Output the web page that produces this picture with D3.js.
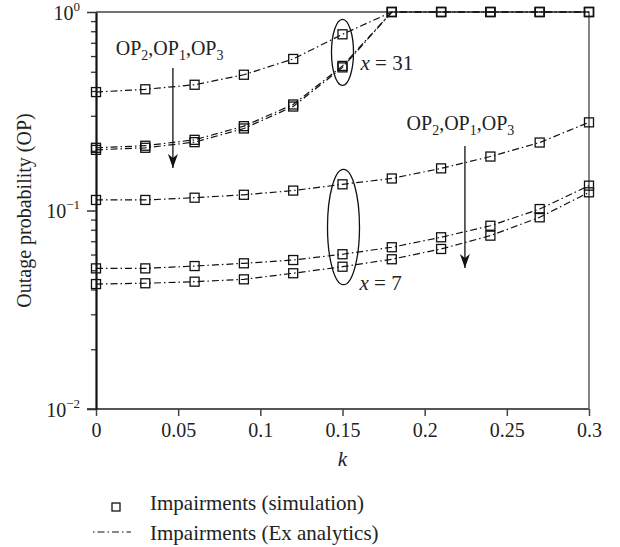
<!DOCTYPE html>
<html>
<head>
<meta charset="utf-8">
<script src="https://cdn.jsdelivr.net/npm/d3@7"></script>
<style>
  body { margin: 0; background: #fff; }
  text { font-family: "Liberation Serif", "Times New Roman", serif; fill: #222; }
</style>
</head>
<body>
<div id="chart-area"></div>
<script>
// DATA
const kValues = [0, 0.03, 0.06, 0.09, 0.12, 0.15, 0.18, 0.21, 0.24, 0.27, 0.3]
const op2x31 = [0.395, 0.408, 0.43, 0.483, 0.58, 0.772, 1, 1, 1, 1, 1]
const op1x31 = [0.207, 0.212, 0.227, 0.266, 0.342, 0.535, 1, 1, 1, 1, 1]
const op3x31 = [0.202, 0.207, 0.221, 0.259, 0.334, 0.526, 1, 1, 1, 1, 1]
const op2x7 = [0.113, 0.113, 0.116, 0.12, 0.126, 0.1355, 0.145, 0.163, 0.187, 0.22, 0.278]
const op1x7 = [0.0511, 0.0511, 0.0525, 0.0542, 0.0563, 0.0602, 0.0653, 0.0733, 0.0838, 0.1017, 0.1334]
const op3x7 = [0.0426, 0.043, 0.0438, 0.045, 0.0483, 0.0521, 0.0568, 0.064, 0.0747, 0.0924, 0.1235]
const seriesList = [op2x31, op1x31, op3x31, op2x7, op1x7, op3x7]

const xTicks = [0, 0.05, 0.1, 0.15, 0.2, 0.25, 0.3]
const xTickLabels = ['0', '0.05', '0.1', '0.15', '0.2', '0.25', '0.3']
const yMajor = [0.01, 0.1, 1]
const yExponents = ['\u22122', '\u22121', '0']
const legendLabels = ['Impairments (simulation)', 'Impairments (Ex analytics)']

// SIZES
const W = 620
const H = 547
const margin = { top: 12, right: 31, bottom: 138, left: 96 }
const width = W - margin.left - margin.right
const height = H - margin.top - margin.bottom
const dashStyle = '7,3,1.5,3'

const svg = d3.select('#chart-area')
              .append('svg')
              .attr('width', W)
              .attr('height', H)

const g = svg.append('g')
             .attr('transform', 'translate(' + margin.left + ',' + margin.top + ')')

// SCALES
const x = d3.scaleLinear().domain([0, 0.3]).range([0, width])
const y = d3.scaleLog().domain([0.01, 1]).range([height, 0])

// FRAME (top / right)
g.append('path')
 .attr('d', 'M0,0H' + width + 'V' + height)
 .attr('fill', 'none')
 .attr('stroke', '#444')
 .attr('stroke-width', 1.3)

// X AXIS
const xAxisGroup = g.append('g')
  .attr('transform', 'translate(0,' + height + ')')
  .call(d3.axisBottom(x).tickValues(xTicks).tickSize(7).tickSizeOuter(0)
          .tickFormat((d, i) => xTickLabels[i]))
xAxisGroup.select('.domain').attr('stroke', '#555').attr('stroke-width', 2)
          .attr('d', 'M-9,0H' + width)
xAxisGroup.selectAll('.tick line').attr('stroke', '#444').attr('stroke-width', 1.5)
xAxisGroup.selectAll('.tick text')
          .attr('font-size', '20px')
          .attr('font-family', '"Liberation Serif", serif')
          .attr('fill', '#222')
          .attr('dy', null)
          .attr('y', 28)

// Y AXIS MINOR TICKS
const yMinor = []
;[0.01, 0.1].forEach(base => {
  for (let m = 2; m <= 9; m++) yMinor.push(base * m)
})
const yMinorGroup = g.append('g')
  .call(d3.axisLeft(y).tickValues(yMinor).tickSize(5).tickFormat(''))
yMinorGroup.select('.domain').remove()
yMinorGroup.selectAll('.tick line').attr('stroke', '#333').attr('stroke-width', 1.3)

// Y AXIS MAJOR
const yAxisGroup = g.append('g')
  .call(d3.axisLeft(y).tickValues(yMajor).tickSize(9).tickSizeOuter(0).tickFormat(''))
yAxisGroup.select('.domain').attr('stroke', '#111').attr('stroke-width', 2.2)
yAxisGroup.selectAll('.tick line').attr('stroke', '#333').attr('stroke-width', 1.5)
yAxisGroup.selectAll('.tick').each(function (d, i) {
  const t = d3.select(this).append('text')
    .attr('x', -16)
    .attr('y', 7)
    .attr('text-anchor', 'end')
    .attr('font-size', '20px')
  t.append('tspan').text('10')
  t.append('tspan').attr('dy', -9).attr('font-size', '13px').text(yExponents[i])
})

// AXIS TITLES
svg.append('text')
   .attr('transform', 'translate(31,' + (margin.top + height / 2) + ') rotate(-90)')
   .attr('text-anchor', 'middle')
   .attr('font-size', '20px')
   .text('Outage probability (OP)')

svg.append('text')
   .attr('x', margin.left + x(0.15))
   .attr('y', 466)
   .attr('text-anchor', 'middle')
   .attr('font-size', '21px')
   .attr('font-style', 'italic')
   .text('k')

// LINES
const line = d3.line()
               .x((d, i) => x(kValues[i]))
               .y(d => y(d))

seriesList.forEach(s => {
  g.append('path')
   .datum(s)
   .attr('d', line)
   .attr('fill', 'none')
   .attr('stroke', '#111')
   .attr('stroke-width', 1.2)
   .attr('stroke-dasharray', dashStyle)
})

// MARKERS
const sq = 9
seriesList.forEach(s => {
  g.selectAll(null)
   .data(s)
   .enter()
   .append('rect')
   .attr('x', (d, i) => x(kValues[i]) - sq / 2)
   .attr('y', d => y(d) - sq / 2)
   .attr('width', sq)
   .attr('height', sq)
   .attr('fill', 'none')
   .attr('stroke', '#111')
   .attr('stroke-width', 1.3)
})

// ANNOTATIONS
const ann = g.append('g')
const i15 = kValues.indexOf(0.15)

// ellipse around x = 31 points
const e1top = y(op2x31[i15]) - 15
const e1bot = y(op3x31[i15]) + 18
ann.append('ellipse')
   .attr('cx', x(0.15))
   .attr('cy', (e1top + e1bot) / 2)
   .attr('rx', 11)
   .attr('ry', (e1bot - e1top) / 2)
   .attr('fill', 'none')
   .attr('stroke', '#111')
   .attr('stroke-width', 1.3)

// ellipse around x = 7 points
const e2top = y(op2x7[i15]) - 15
const e2bot = y(op3x7[i15]) + 18
ann.append('ellipse')
   .attr('cx', x(0.15) + 1)
   .attr('cy', (e2top + e2bot) / 2)
   .attr('rx', 16)
   .attr('ry', (e2bot - e2top) / 2)
   .attr('fill', 'none')
   .attr('stroke', '#111')
   .attr('stroke-width', 1.3)

const xLabel = (px, py, val) => {
  const t = ann.append('text').attr('x', px).attr('y', py).attr('font-size', '21px')
  t.append('tspan').attr('font-style', 'italic').text('x')
  t.append('tspan').text(' = ' + val)
}
xLabel(x(0.15) + 18, y(op1x31[i15]) + 4, '31')
xLabel(x(0.15) + 17, e2bot + 5, '7')

// arrows with OP labels
svg.append('defs').append('marker')
   .attr('id', 'head')
   .attr('viewBox', '0 0 14 10')
   .attr('refX', 14)
   .attr('refY', 5)
   .attr('markerWidth', 14)
   .attr('markerHeight', 10)
   .attr('markerUnits', 'userSpaceOnUse')
   .attr('orient', 'auto')
   .append('path')
   .attr('d', 'M0,0L14,5L0,10L4,5Z')
   .attr('fill', '#111')

const opLabel = (px, py) => {
  const t = ann.append('text').attr('x', px).attr('y', py).attr('font-size', '20px')
  ;['2', '1', '3'].forEach((n, i) => {
    t.append('tspan').attr('dy', i === 0 ? 0 : -5).text((i === 0 ? '' : ',') + 'OP')
    t.append('tspan').attr('dy', 5).attr('font-size', '14px').text(n)
  })
}

const arrow = (ax, y1, y2) => {
  ann.append('line')
     .attr('x1', ax).attr('x2', ax)
     .attr('y1', y1).attr('y2', y2)
     .attr('stroke', '#111')
     .attr('stroke-width', 1.3)
     .attr('marker-end', 'url(#head)')
}

opLabel(x(0.012), 43)
arrow(x(0.0468), 56, 156)
opLabel(x(0.189), 118)
arrow(x(0.2245), 134, 256)

// LEGEND
const legend = svg.append('g')
legend.append('rect')
      .attr('x', 112).attr('y', 503)
      .attr('width', 8).attr('height', 8)
      .attr('fill', 'none')
      .attr('stroke', '#111')
      .attr('stroke-width', 1.3)
legend.append('line')
      .attr('x1', 93).attr('x2', 131)
      .attr('y1', 532).attr('y2', 532)
      .attr('stroke', '#111')
      .attr('stroke-width', 1.2)
      .attr('stroke-dasharray', '1.5,3,7,3')
legend.selectAll(null)
      .data(legendLabels)
      .enter()
      .append('text')
      .attr('x', 150)
      .attr('y', (d, i) => 510 + i * 30)
      .attr('font-size', '21px')
      .text(d => d)
</script>
</body>
</html>
